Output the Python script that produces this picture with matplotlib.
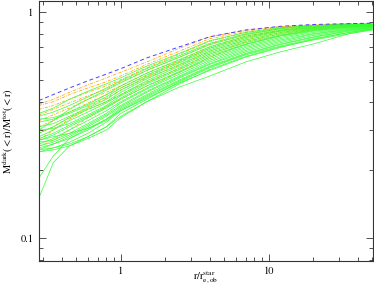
import matplotlib
matplotlib.use("Agg")
import matplotlib.pyplot as plt
from matplotlib.ticker import LogLocator, NullFormatter, FixedLocator, FixedFormatter

plt.rcParams['font.family'] = ['STIXGeneral', 'DejaVu Serif']
plt.rcParams['mathtext.fontset'] = 'stix'

# radius grid (r / r_e,ob^star)
r = [0.28, 0.35, 0.45, 0.6, 0.8, 1.0, 1.5, 2.5, 4.0, 7.0, 12.0, 20.0, 35.0, 50.0]

# blue dashed reference curve
blue = [0.405, 0.43, 0.46, 0.495, 0.53, 0.56, 0.625, 0.70, 0.775, 0.83, 0.862, 0.878, 0.886, 0.89]

# orange dash-dot curves
orange = [
    [0.39, 0.41, 0.44, 0.475, 0.51, 0.54, 0.60, 0.69, 0.775, 0.83, 0.86, 0.875, 0.885, 0.888],
    [0.385, 0.40, 0.43, 0.46, 0.49, 0.52, 0.585, 0.67, 0.76, 0.82, 0.855, 0.872, 0.882, 0.886],
    [0.37, 0.385, 0.41, 0.44, 0.47, 0.50, 0.565, 0.65, 0.74, 0.81, 0.85, 0.868, 0.88, 0.884],
    [0.35, 0.37, 0.395, 0.425, 0.455, 0.49, 0.55, 0.63, 0.72, 0.795, 0.84, 0.862, 0.877, 0.882],
    [0.33, 0.35, 0.375, 0.41, 0.44, 0.47, 0.535, 0.61, 0.70, 0.78, 0.83, 0.856, 0.873, 0.88],
    [0.31, 0.33, 0.36, 0.395, 0.43, 0.46, 0.52, 0.60, 0.69, 0.77, 0.82, 0.85, 0.87, 0.877],
    [0.29, 0.31, 0.34, 0.38, 0.415, 0.45, 0.51, 0.58, 0.67, 0.75, 0.81, 0.845, 0.866, 0.874],
    [0.27, 0.30, 0.335, 0.37, 0.40, 0.43, 0.49, 0.56, 0.65, 0.735, 0.80, 0.84, 0.862, 0.87],
    [0.255, 0.27, 0.30, 0.34, 0.38, 0.41, 0.47, 0.54, 0.63, 0.72, 0.785, 0.83, 0.855, 0.865],
]

# green solid curves
green = [
    [0.355, 0.375, 0.41, 0.445, 0.48, 0.51, 0.575, 0.655, 0.745, 0.81, 0.85, 0.87, 0.88, 0.882],
    [0.345, 0.36, 0.385, 0.42, 0.46, 0.495, 0.56, 0.64, 0.725, 0.80, 0.845, 0.868, 0.878, 0.88],
    [0.30, 0.33, 0.37, 0.41, 0.45, 0.485, 0.55, 0.63, 0.715, 0.79, 0.84, 0.865, 0.876, 0.878],
    [0.335, 0.34, 0.36, 0.39, 0.43, 0.47, 0.535, 0.615, 0.70, 0.78, 0.83, 0.86, 0.875, 0.877],
    [0.325, 0.335, 0.355, 0.385, 0.42, 0.46, 0.525, 0.605, 0.69, 0.77, 0.825, 0.855, 0.872, 0.875],
    [0.31, 0.32, 0.345, 0.375, 0.41, 0.45, 0.515, 0.595, 0.68, 0.76, 0.82, 0.85, 0.87, 0.873],
    [0.29, 0.31, 0.34, 0.37, 0.40, 0.44, 0.505, 0.585, 0.67, 0.75, 0.81, 0.845, 0.866, 0.87],
    [0.28, 0.30, 0.33, 0.36, 0.395, 0.43, 0.495, 0.575, 0.66, 0.74, 0.80, 0.84, 0.862, 0.868],
    [0.30, 0.305, 0.32, 0.35, 0.385, 0.425, 0.485, 0.565, 0.65, 0.73, 0.79, 0.835, 0.86, 0.865],
    [0.275, 0.29, 0.315, 0.345, 0.38, 0.415, 0.48, 0.555, 0.64, 0.72, 0.785, 0.83, 0.857, 0.862],
    [0.27, 0.285, 0.31, 0.34, 0.375, 0.41, 0.47, 0.545, 0.63, 0.715, 0.78, 0.825, 0.855, 0.86],
    [0.26, 0.275, 0.30, 0.33, 0.365, 0.40, 0.46, 0.54, 0.62, 0.705, 0.77, 0.82, 0.85, 0.857],
    [0.265, 0.27, 0.29, 0.32, 0.355, 0.395, 0.455, 0.53, 0.61, 0.695, 0.76, 0.81, 0.845, 0.855],
    [0.255, 0.265, 0.285, 0.315, 0.35, 0.385, 0.445, 0.52, 0.60, 0.685, 0.75, 0.80, 0.84, 0.852],
    [0.25, 0.26, 0.28, 0.31, 0.345, 0.38, 0.44, 0.515, 0.59, 0.675, 0.74, 0.795, 0.835, 0.85],
    [0.245, 0.26, 0.275, 0.30, 0.335, 0.375, 0.43, 0.51, 0.585, 0.665, 0.73, 0.785, 0.83, 0.848],
    [0.27, 0.28, 0.29, 0.305, 0.33, 0.37, 0.425, 0.50, 0.575, 0.655, 0.72, 0.775, 0.825, 0.845],
    [0.24, 0.25, 0.265, 0.29, 0.325, 0.365, 0.42, 0.495, 0.57, 0.65, 0.715, 0.77, 0.82, 0.84],
    [0.245, 0.25, 0.26, 0.28, 0.31, 0.355, 0.41, 0.49, 0.565, 0.645, 0.705, 0.76, 0.81, 0.838],
    [0.24, 0.245, 0.255, 0.275, 0.30, 0.34, 0.40, 0.48, 0.555, 0.635, 0.70, 0.75, 0.80, 0.835],
    [0.184, 0.23, 0.275, 0.305, 0.335, 0.365, 0.415, 0.485, 0.55, 0.63, 0.695, 0.755, 0.81, 0.838],
    [0.15, 0.215, 0.255, 0.28, 0.31, 0.345, 0.40, 0.465, 0.52, 0.60, 0.665, 0.72, 0.80, 0.83],
]

x_major = [1, 10]
x_major_labels = ["1", "10"]
y_major = [0.1, 1]
y_major_labels = ["0.1", "1"]

fig = plt.figure(figsize=(3.74, 2.93), dpi=100)
ax = fig.add_axes([0.104, 0.109, 0.893, 0.889])

for ys in orange:
    ax.plot(r, ys, color='#ffa500', lw=0.55, linestyle=(0, (4, 1.5, 1, 1.5)))
for ys in green:
    ax.plot(r, ys, color='#33ff33', lw=0.5)
ax.plot(r, blue, color='#4444ff', lw=0.7, linestyle=(0, (4, 3)))

ax.set_xscale('log')
ax.set_yscale('log')
ax.set_xlim(0.28, 50.5)
ax.set_ylim(0.079, 1.12)

ax.xaxis.set_major_locator(FixedLocator(x_major))
ax.xaxis.set_major_formatter(FixedFormatter(x_major_labels))
ax.xaxis.set_minor_locator(LogLocator(base=10, subs=range(2, 10), numticks=20))
ax.xaxis.set_minor_formatter(NullFormatter())
ax.yaxis.set_major_locator(FixedLocator(y_major))
ax.yaxis.set_major_formatter(FixedFormatter(y_major_labels))
ax.yaxis.set_minor_locator(LogLocator(base=10, subs=range(2, 10), numticks=20))
ax.yaxis.set_minor_formatter(NullFormatter())

ax.tick_params(which='both', direction='in', top=True, right=True, width=0.6, color='#333333')
ax.tick_params(which='major', length=5, labelsize=7.5, pad=4)
ax.tick_params(which='minor', length=3)
for s in ax.spines.values():
    s.set_linewidth(0.8)
    s.set_color('#333333')

ax.set_xlabel(r'$\mathrm{r/r_{e,ob}^{star}}$', fontsize=7.5)
ax.xaxis.set_label_coords(0.5, -0.035)
ax.set_ylabel(r'$\mathrm{M^{dark}(<r)/M^{tot}(<r)}$', fontsize=7.5, labelpad=3)

fig.savefig('out.png', dpi=100)
